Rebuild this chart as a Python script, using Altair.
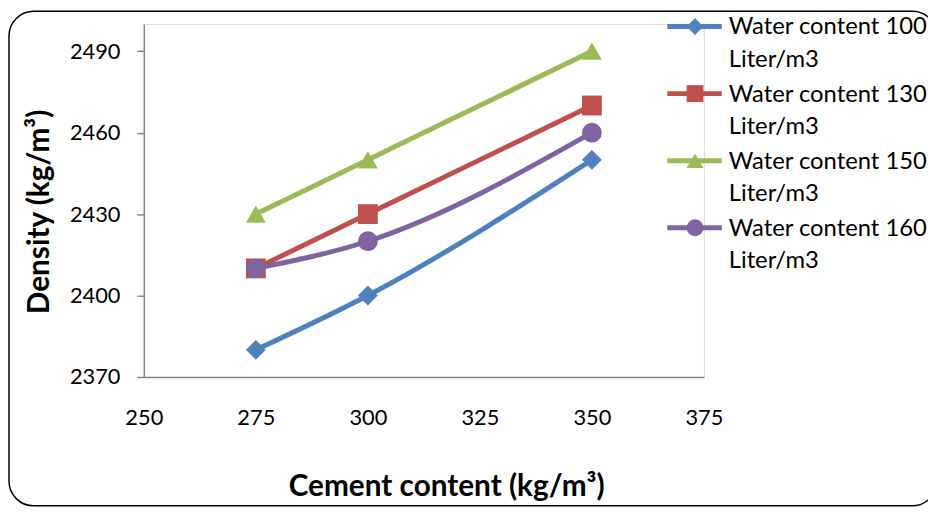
import altair as alt
import pandas as pd

cement = [275, 300, 350]
series_names = [
    "Water content 100 Liter/m3",
    "Water content 130 Liter/m3",
    "Water content 150 Liter/m3",
    "Water content 160 Liter/m3",
]
density_100 = [2380, 2400, 2450]
density_130 = [2410, 2430, 2470]
density_150 = [2430, 2450, 2490]
density_160 = [2410, 2420, 2460]
colors = ["#4F81BD", "#C0504D", "#9BBB59", "#8064A2"]
shapes = ["diamond", "square", "triangle-up", "circle"]
x_ticks = [250, 275, 300, 325, 350, 375]
y_ticks = [2370, 2400, 2430, 2460, 2490]

rows = []
for name, vals in zip(series_names, [density_100, density_130, density_150, density_160]):
    for c, d in zip(cement, vals):
        rows.append({"cement": c, "density": d, "series": name})
df = pd.DataFrame(rows)
legend_df = pd.DataFrame({"series": series_names})

FONT = "Lato"
W, H = 565, 356

x_enc = alt.X(
    "cement:Q",
    scale=alt.Scale(domain=[250, 375], nice=False, zero=False),
    axis=alt.Axis(
        values=x_ticks, title="Cement content (kg/m³)", grid=False, ticks=False,
        labelPadding=31, labelFontSize=22, labelFont=FONT, labelColor="black",
        labelFlush=False, labelOverlap=False, format="d",
        domainColor="#868686", domainWidth=1.5,
        titleFont=FONT, titleFontSize=30, titleFontWeight="bold", titleColor="black",
        titleX=305, titleY=111, titleBaseline="middle",
    ),
)
y_enc = alt.Y(
    "density:Q",
    scale=alt.Scale(domain=[2370, 2500], nice=False, zero=False),
    axis=alt.Axis(
        values=y_ticks, title="Density (kg/m³)", grid=False, tickSize=7,
        tickColor="#868686", tickWidth=1.5, labelPadding=17, labelFontSize=22,
        labelFont=FONT, labelColor="black", labelFlush=False, labelOverlap=False,
        format="d", domainColor="#868686", domainWidth=1.5,
        titleFont=FONT, titleFontSize=30, titleFontWeight="bold", titleColor="black",
        titleX=-105, titleY=189, titleBaseline="middle",
    ),
)

color_scale = alt.Scale(domain=series_names, range=colors)
shape_scale = alt.Scale(domain=series_names, range=shapes)
color_enc = alt.Color("series:N", scale=color_scale, legend=None)
shape_enc = alt.Shape("series:N", scale=shape_scale, legend=None)

lines = alt.Chart(df).mark_line(interpolate="monotone", strokeWidth=5).encode(
    x=x_enc, y=y_enc, color=color_enc
)
points = alt.Chart(df).mark_point(filled=True, size=400, opacity=1).encode(
    x="cement:Q", y="density:Q", color=color_enc, shape=shape_enc
)
border = alt.Chart(pd.DataFrame({"k": [0]})).mark_rect(
    fill=None, stroke="black", strokeWidth=1.5, cornerRadius=25
).encode(x=alt.value(-136), x2=alt.value(800), y=alt.value(-13), y2=alt.value(486))

main = alt.layer(border, lines, points)

# legend (line + marker + two-line label), rows placed by an ordinal point scale
leg_y = alt.Y("series:N",
              scale=alt.Scale(type="point", domain=series_names, range=[2.5, 205.5], padding=0),
              axis=None)
leg_rule = alt.Chart(legend_df).mark_rule(strokeWidth=5).encode(
    x=alt.value(528), x2=alt.value(583), y=leg_y, color=color_enc
)
leg_pt = alt.Chart(legend_df).mark_point(filled=True, size=290, opacity=1).encode(
    x=alt.value(556), y=leg_y, color=color_enc, shape=shape_enc
)
leg_txt = alt.Chart(legend_df).transform_calculate(
    label="[replace(datum.series, ' Liter/m3', ''), 'Liter/m3']"
).mark_text(
    align="left", baseline="alphabetic", dy=8, font=FONT, fontSize=24,
    lineHeight=33, color="black"
).encode(x=alt.value(590), y=leg_y, text="label:N")
legend = alt.layer(leg_rule, leg_pt, leg_txt)

chart = alt.layer(main, legend).resolve_scale(y="independent").properties(
    width=W, height=H,
    padding={"left": 137, "top": 14, "right": 226, "bottom": 134},
    autosize=alt.AutoSizeParams(type="none"),
).configure_view(stroke=None).configure(background="white")

chart.save("out.html", embed_options={"renderer": "svg", "actions": False})
